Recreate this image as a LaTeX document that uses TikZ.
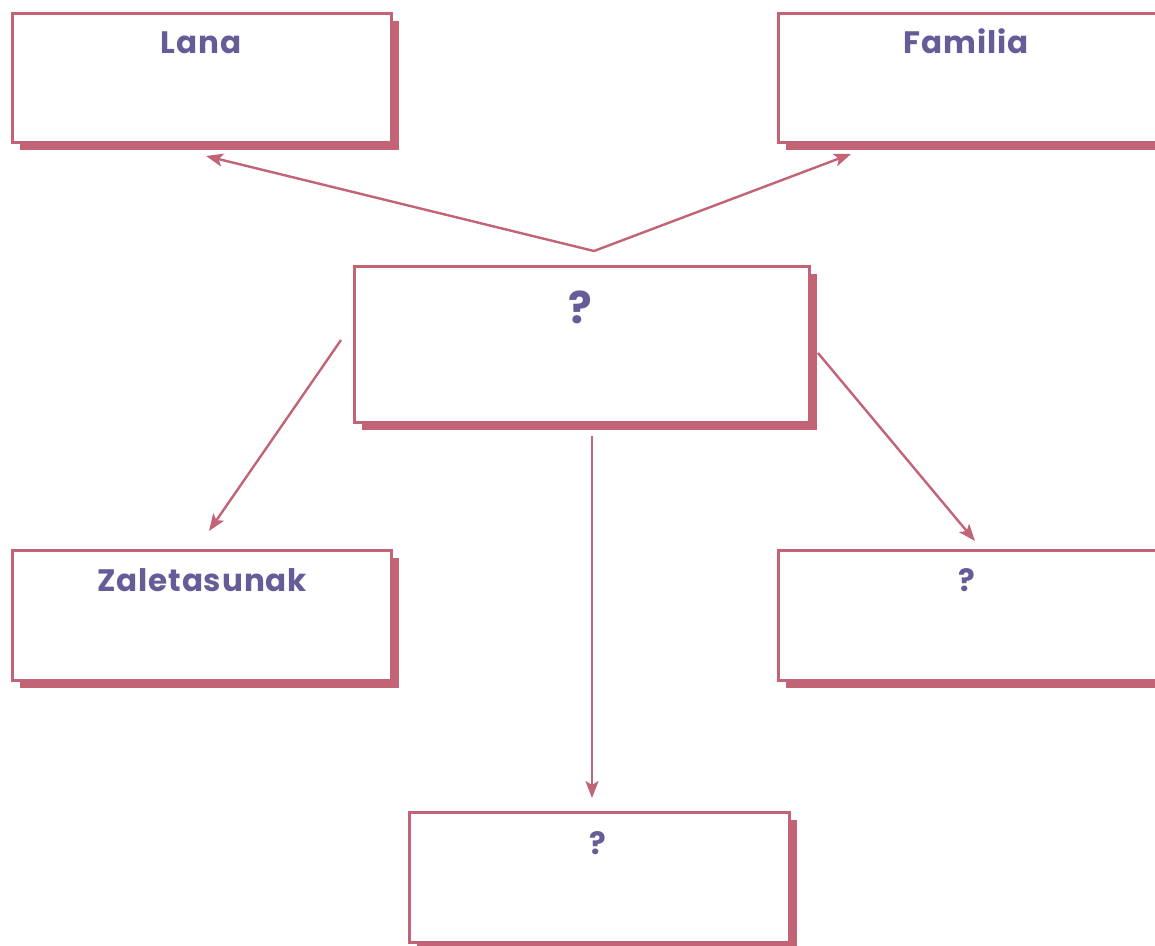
\documentclass[tikz,border=0pt]{standalone}
\usepackage{fontspec}
\setmainfont{Poppins}[LetterSpace=3]
\usetikzlibrary{arrows.meta,shadows}
\definecolor{pinkc}{HTML}{C26476}
\definecolor{purp}{HTML}{665C97}
\tikzset{
  box/.style={draw=pinkc, line width=3pt, fill=white, rectangle, inner sep=0pt,
    drop shadow={shadow xshift=8pt, shadow yshift=-8pt, fill=pinkc, opacity=1}},
  lbl/.style={text=purp, font=\bfseries\fontsize{31}{31}\selectfont, anchor=base, inner sep=0pt},
  biglbl/.style={lbl, font=\bfseries\fontsize{44}{44}\selectfont},
  conn/.style={draw=pinkc, line width=2.4pt, -{Stealth[length=17pt,width=13pt,inset=4pt]}},
}
\begin{document}
\begin{tikzpicture}[x=1pt,y=-1pt]
\clip (0,0) rectangle (1155,945);
\fill[white] (0,0) rectangle (1155,945);
% boxes
\node[box, minimum width=379pt, minimum height=129pt] (lana) at (201.5,77.5) {};
\node[box, minimum width=379pt, minimum height=129pt] (familia) at (967.5,77.5) {};
\node[box, minimum width=455pt, minimum height=156pt] (center) at (581.5,344) {};
\node[box, minimum width=379pt, minimum height=130pt] (zale) at (201.5,615) {};
\node[box, minimum width=379pt, minimum height=130pt] (right) at (967.5,615) {};
\node[box, minimum width=380pt, minimum height=130pt] (bottom) at (599,877) {};
% labels
\node[lbl] (tlana) at (201,53) {Lana};
\node[lbl] (tfam) at (966,53) {Familia};
\node[biglbl] (tcen) at (580,323) {?};
\node[lbl] (tzale) at (202,591) {Zaletasunak};
\node[lbl] (tright) at (967,591) {?};
\node[lbl] (tbot) at (598,854) {?};
% connector coordinates
\coordinate (apex) at (594,251);
\coordinate (lanaend) at (206,156);
\coordinate (famend) at (851,154);
\coordinate (lstart) at (341,340);
\coordinate (zaleend) at (209,531);
\coordinate (rstart) at (818,353);
\coordinate (rightend) at (975,541);
\coordinate (bstart) at (592,436);
\coordinate (botend) at (592,798);
% connectors
\draw[conn] (apex) -- (lanaend);
\draw[conn] (apex) -- (famend);
\draw[conn] (lstart) -- (zaleend);
\draw[conn] (rstart) -- (rightend);
\draw[conn] (bstart) -- (botend);
\end{tikzpicture}
\end{document}
